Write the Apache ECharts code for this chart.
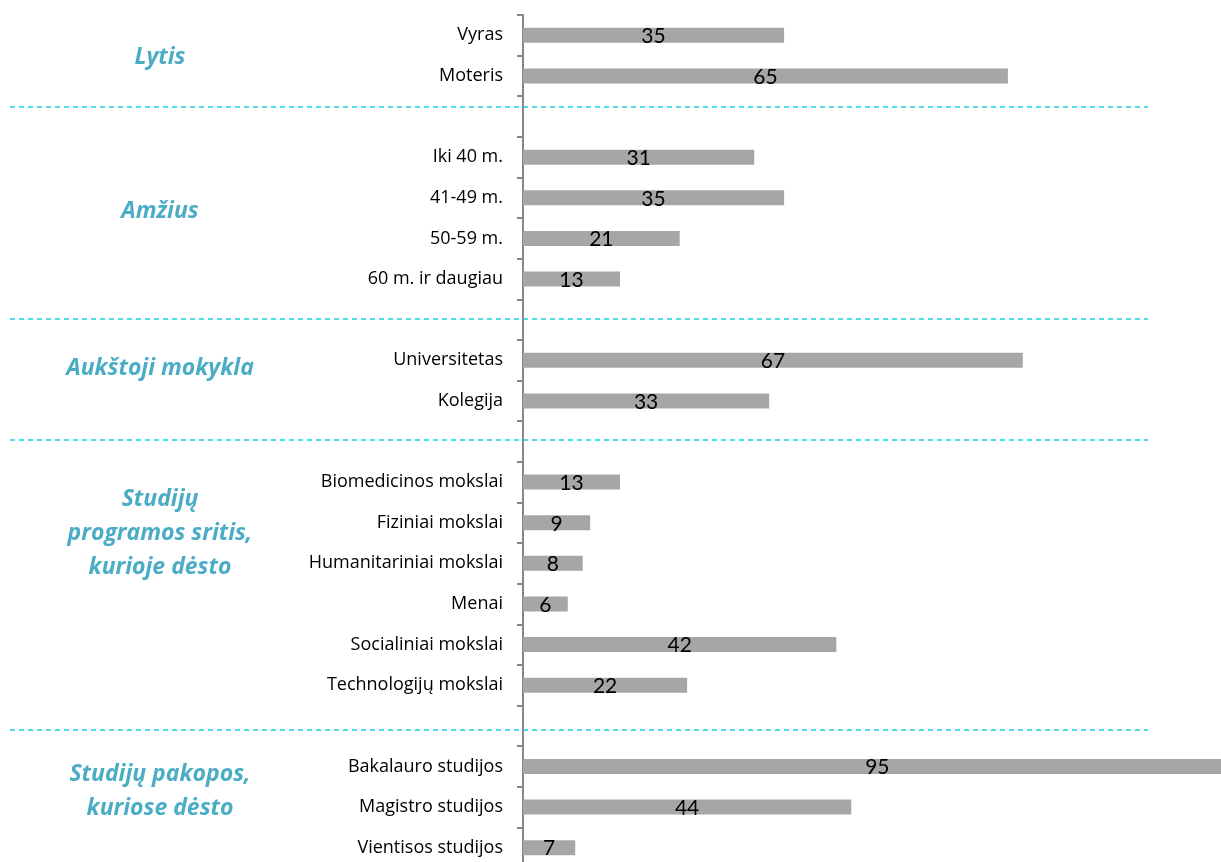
<!DOCTYPE html>
<html>
<head>
<meta charset="utf-8">
<script src="https://cdn.jsdelivr.net/npm/echarts@6/dist/echarts.min.js"></script>
<style>
    html, body { margin: 0; padding: 0; background: #fff; }
    #chart { width: 1221px; height: 862px; }
</style>
</head>
<body>
<div id="chart"></div>
<script>
    // blank slots ('') separate the groups
    var categories = [
        'Vyras', 'Moteris', '',
        'Iki 40 m.', '41-49 m.', '50-59 m.', '60 m. ir daugiau', '',
        'Universitetas', 'Kolegija', '',
        'Biomedicinos mokslai', 'Fiziniai mokslai', 'Humanitariniai mokslai', 'Menai', 'Socialiniai mokslai', 'Technologijų mokslai', '',
        'Bakalauro studijos', 'Magistro studijos', 'Vientisos studijos'
    ];
    var values = [
        35, 65, null,
        31, 35, 21, 13, null,
        67, 33, null,
        13, 9, 8, 6, 42, 22, null,
        95, 44, 7
    ];
    var groupNames = [
        'Lytis',
        'Amžius',
        'Aukštoji mokykla',
        'Studijų\nprogramos sritis,\nkurioje dėsto',
        'Studijų pakopos,\nkuriose dėsto'
    ];

    var chart = echarts.init(document.getElementById('chart'));

    var groupPos = [57, 211, 368, 533, 791];
    var sepPos = [107, 319, 440, 730];

    var graphics = [];
    for (var i = 0; i < groupNames.length; i++) {
        graphics.push({
            type: 'text',
            x: 160,
            y: groupPos[i],
            style: {
                text: groupNames[i],
                fill: '#4BACC6',
                font: 'italic bold 23px "Open Sans"',
                lineHeight: 34,
                textAlign: 'center',
                textVerticalAlign: 'middle'
            }
        });
    }
    for (var j = 0; j < sepPos.length; j++) {
        graphics.push({
            type: 'line',
            shape: { x1: 10, y1: sepPos[j], x2: 1148, y2: sepPos[j] },
            style: { stroke: '#12D2DC', lineWidth: 1.5, lineDash: [5, 4] },
            z: 1
        });
    }

    chart.setOption({
        animation: false,
        grid: {
            left: 523,
            top: 15,
            width: 746,
            height: 853,
            containLabel: false,
            outerBoundsMode: 'none'
        },
        xAxis: {
            type: 'value',
            min: 0,
            max: 100,
            show: false
        },
        yAxis: {
            type: 'category',
            inverse: true,
            data: categories,
            axisLine: { lineStyle: { color: '#868686', width: 2 } },
            axisTick: { show: true, length: 6, lineStyle: { color: '#868686', width: 2 } },
            axisLabel: {
                color: '#000',
                fontFamily: 'Open Sans',
                fontSize: 18,
                margin: 20
            }
        },
        series: [
            {
                type: 'bar',
                data: values,
                barWidth: 15,
                itemStyle: { color: '#A6A6A6' },
                label: {
                    show: true,
                    position: 'inside',
                    offset: [0, 1],
                    color: '#000',
                    fontFamily: 'Lato',
                    fontSize: 21
                }
            }
        ],
        graphic: graphics
    });
</script>
</body>
</html>
